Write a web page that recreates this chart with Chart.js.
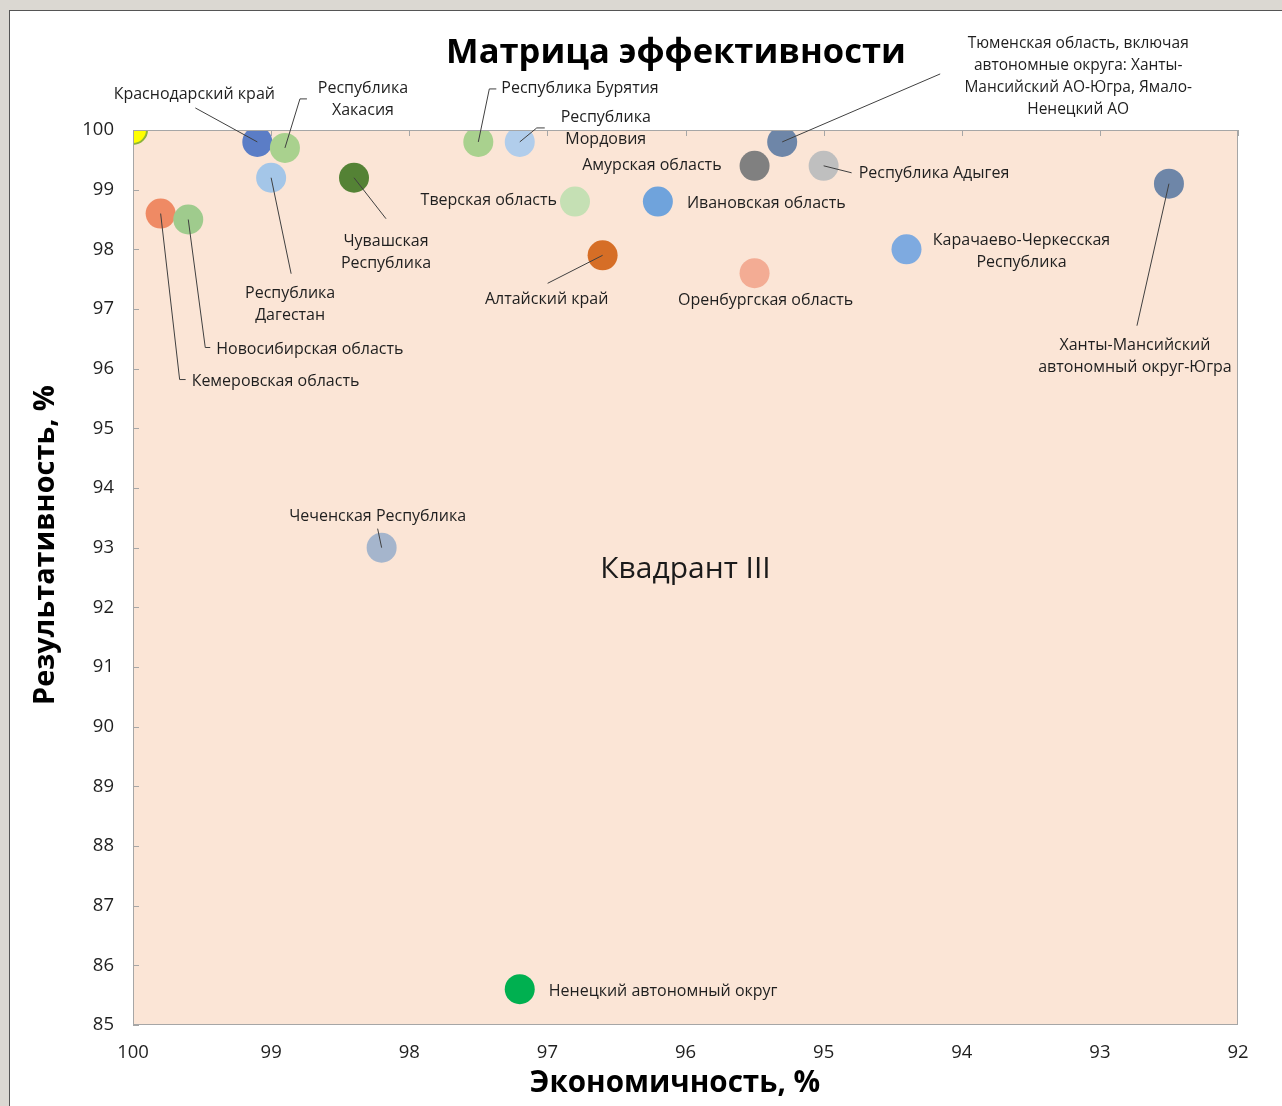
<!DOCTYPE html>
<html>
<head>
<meta charset="utf-8">
<script src="https://cdn.jsdelivr.net/npm/chart.js@4/dist/chart.umd.min.js"></script>
<style>
  body { margin: 0; background: #dbd8d2; width: 1282px; height: 1106px; overflow: hidden; position: relative; }
  #card { position: absolute; left: 9px; top: 10px; width: 1300px; height: 1120px; background: #fff; border: 1px solid #555; }
  #chart { position: absolute; left: 0; top: 0; }
</style>
</head>
<body>
<div id="card"></div>
<canvas id="chart" width="1282" height="1106"></canvas>
<script>
// regions, economy (x, %) and result (y, %)
const regions = [
    "",
    "Краснодарский край",
    "Республика Хакасия",
    "Республика Дагестан",
    "Чувашская Республика",
    "Кемеровская область",
    "Новосибирская область",
    "Республика Бурятия",
    "Республика Мордовия",
    "Тверская область",
    "Ивановская область",
    "Алтайский край",
    "Амурская область",
    "Тюменская область",
    "Республика Адыгея",
    "Оренбургская область",
    "Карачаево-Черкесская Республика",
    "Ханты-Мансийский автономный округ-Югра",
    "Чеченская Республика",
    "Ненецкий автономный округ"
];
const economy = [100, 99.1, 98.9, 99.0, 98.4, 99.8, 99.6, 97.5, 97.2, 96.8, 96.2, 96.6, 95.5, 95.3, 95.0, 95.5, 94.4, 92.5, 98.2, 97.2];
const result  = [100, 99.8, 99.7, 99.2, 99.2, 98.6, 98.5, 99.8, 99.8, 98.8, 98.8, 97.9, 99.4, 99.8, 99.4, 97.6, 98.0, 99.1, 93.0, 85.6];

const xTicks = [100, 99, 98, 97, 96, 95, 94, 93, 92];
const yTicks = [85, 86, 87, 88, 89, 90, 91, 92, 93, 94, 95, 96, 97, 98, 99, 100];

const pointColors = ["#ffff00", "#5b7dc6", "#a9d18e", "#a4c6e8", "#548235", "#ef8a64", "#9fcb8d", "#a9d18e",
    "#b1cdeb", "#c5e0b4", "#6fa3dc", "#d66e26", "#808080", "#6e86a8", "#bfbfbf", "#f3ac94", "#7eaae0",
    "#6e86a8", "#a5b5cc", "#00b050"];

// label text lines and placement (pixel offsets from the point)
const labelLayout = [
    null,
    { lines: ["Краснодарский край"], align: "center", dx: -63, dy: -47, lead: [[-62, -34]] },
    { lines: ["Республика", "Хакасия"], align: "center", dx: 78, dy: -59, lead: [[15, -49], [22, -49]] },
    { lines: ["Республика", "Дагестан"], align: "center", dx: 19, dy: 116, lead: [[20, 96]] },
    { lines: ["Чувашская", "Республика"], align: "center", dx: 32, dy: 64, lead: [[32, 41]] },
    { lines: ["Кемеровская область"], align: "left", dx: 31, dy: 168, lead: [[19, 166], [25, 166]] },
    { lines: ["Новосибирская область"], align: "left", dx: 28, dy: 130, lead: [[17, 128], [22, 128]] },
    { lines: ["Республика Бурятия"], align: "left", dx: 23, dy: -53, lead: [[11, -53], [18, -53]] },
    { lines: ["Республика", "Мордовия"], align: "center", dx: 86, dy: -24, lead: [[17, -14], [25, -14]] },
    { lines: ["Тверская область"], align: "right", dx: -18, dy: -1 },
    { lines: ["Ивановская область"], align: "left", dx: 29, dy: 2 },
    { lines: ["Алтайский край"], align: "center", dx: -56, dy: 44, lead: [[-55, 28]] },
    { lines: ["Амурская область"], align: "right", dx: -33, dy: 0 },
    { lines: ["Тюменская область, включая", "автономные округа: Ханты-", "Мансийский АО-Югра, Ямало-", "Ненецкий АО"],
      align: "center", dx: 296, dy: -98, lead: [[158, -68]], size: 15.5 },
    { lines: ["Республика Адыгея"], align: "left", dx: 35, dy: 8, lead: [[28, 7]] },
    { lines: ["Оренбургская область"], align: "center", dx: 11, dy: 27 },
    { lines: ["Карачаево-Черкесская", "Республика"], align: "center", dx: 115, dy: -9 },
    { lines: ["Ханты-Мансийский", "автономный округ-Югра"], align: "center", dx: -34, dy: 162, lead: [[-32, 142]] },
    { lines: ["Чеченская Республика"], align: "center", dx: -4, dy: -31, lead: [[-4, -19]] },
    { lines: ["Ненецкий автономный округ"], align: "left", dx: 29, dy: 2 }
];

const FONT = "'Open Sans', sans-serif";

const matrixPlugin = {
    id: "matrix",
    beforeDatasetsDraw(chart) {
        const a = chart.chartArea;
        const ctx = chart.ctx;
        ctx.save();
        ctx.fillStyle = "#fbe5d6";
        ctx.fillRect(a.left, a.top, a.right - a.left, a.bottom - a.top);
        ctx.restore();
    },
    afterDatasetsDraw(chart) {
        const a = chart.chartArea;
        const ctx = chart.ctx;
        const xs = chart.scales.x, ys = chart.scales.y;
        ctx.save();
        // frame and inner tick marks
        ctx.strokeStyle = "#a6a6a6";
        ctx.lineWidth = 1;
        ctx.strokeRect(a.left + 0.5, a.top + 0.5, a.right - a.left - 1, a.bottom - a.top - 1);
        ctx.beginPath();
        yTicks.forEach(v => {
            const y = Math.round(ys.getPixelForValue(v)) + 0.5;
            ctx.moveTo(a.left, y); ctx.lineTo(a.left + 6, y);
        });
        xTicks.forEach(v => {
            const x = Math.round(xs.getPixelForValue(v)) + 0.5;
            ctx.moveTo(x, a.top); ctx.lineTo(x, a.top + 6);
        });
        ctx.stroke();

        // point labels with leader lines
        ctx.strokeStyle = "#404040";
        ctx.fillStyle = "#1f1f1f";
        ctx.textBaseline = "middle";
        regions.forEach((name, i) => {
            const l = labelLayout[i];
            if (!l) return;
            const px = xs.getPixelForValue(economy[i]);
            const py = ys.getPixelForValue(result[i]);
            if (l.lead) {
                ctx.beginPath();
                ctx.moveTo(px, py);
                l.lead.forEach(p => ctx.lineTo(px + p[0], py + p[1]));
                ctx.stroke();
            }
            ctx.font = (l.size || 16) + "px " + FONT;
            ctx.textAlign = l.align;
            l.lines.forEach((t, k) => ctx.fillText(t, px + l.dx, py + l.dy + k * 22));
        });

        // quadrant caption
        ctx.font = "30px " + FONT;
        ctx.textAlign = "center";
        ctx.fillStyle = "#1a1a1a";
        ctx.fillText("Квадрант III", xs.getPixelForValue(96), ys.getPixelForValue(92.63));

        // titles
        ctx.fillStyle = "#000";
        ctx.font = "bold 34.5px " + FONT;
        ctx.fillText("Матрица эффективности", 676, 53);
        ctx.font = "bold 29.6px " + FONT;
        ctx.fillText("Экономичность, %", 675, 1084);
        ctx.translate(46, 545);
        ctx.rotate(-Math.PI / 2);
        ctx.font = "bold 28.9px " + FONT;
        ctx.fillText("Результативность, %", 0, 0);
        ctx.restore();
    }
};

new Chart(document.getElementById("chart"), {
    type: "scatter",
    data: {
        datasets: [{
            data: economy.map((x, i) => ({ x: x, y: result[i] })),
            backgroundColor: pointColors,
            borderColor: pointColors.map((c, i) => i === 0 ? "#8db43a" : c),
            borderWidth: pointColors.map((c, i) => i === 0 ? 2 : 0),
            pointRadius: pointColors.map((c, i) => i === 0 ? 14 : 15),
            pointHoverRadius: pointColors.map((c, i) => i === 0 ? 14 : 15),
            clip: 0
        }]
    },
    options: {
        responsive: false,
        animation: false,
        layout: { padding: { left: 0, right: 44, top: 130, bottom: 0 } },
        plugins: {
            legend: { display: false },
            tooltip: { enabled: false }
        },
        scales: {
            x: {
                type: "linear",
                reverse: true,
                min: 92,
                max: 100,
                afterFit: s => { s.height = 81; },
                afterBuildTicks: s => { s.ticks = xTicks.map(v => ({ value: v })); },
                grid: { display: false, drawTicks: false },
                border: { display: false },
                ticks: { padding: 17, color: "#1f1f1f", font: { family: FONT, size: 18.5 } }
            },
            y: {
                type: "linear",
                min: 85,
                max: 100,
                afterFit: s => { s.width = 133; },
                afterBuildTicks: s => { s.ticks = yTicks.map(v => ({ value: v })); },
                grid: { display: false, drawTicks: false },
                border: { display: false },
                ticks: { padding: 19, color: "#1f1f1f", font: { family: FONT, size: 18.5 } }
            }
        }
    },
    plugins: [matrixPlugin]
});
</script>
</body>
</html>
